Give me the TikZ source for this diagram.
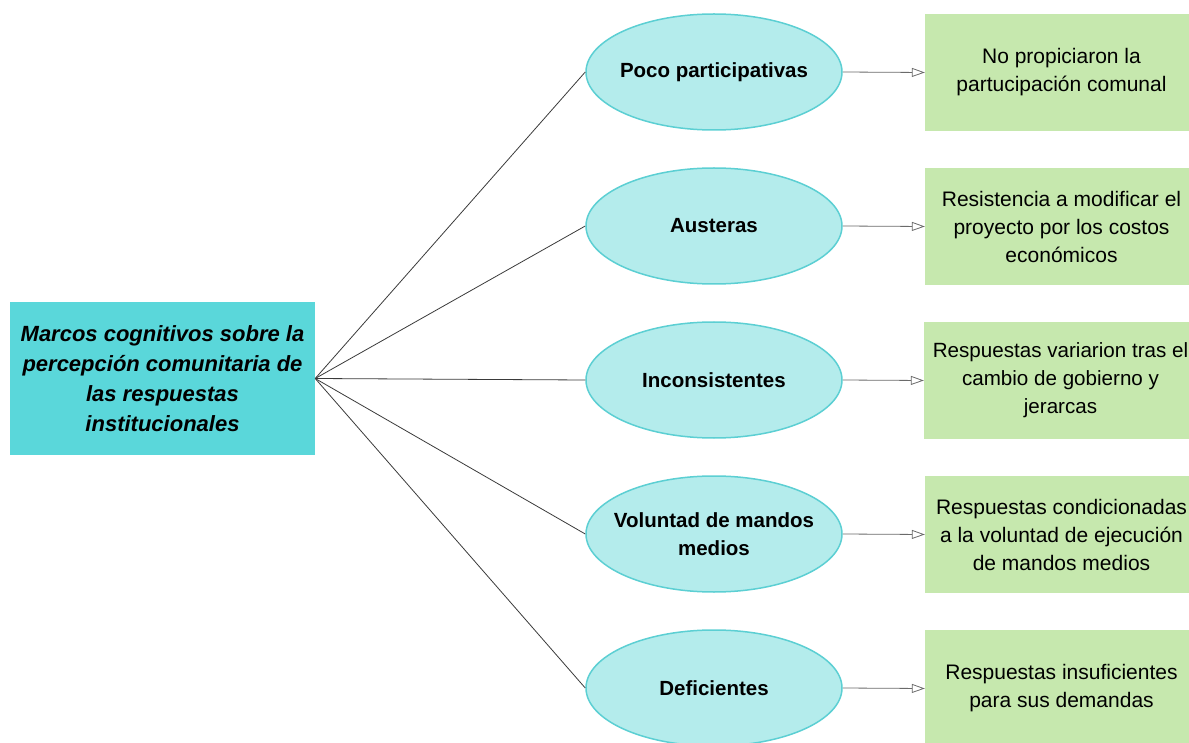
\documentclass[tikz,border=0pt]{standalone}
\usepackage{fontspec}
\setmainfont{Liberation Sans}
\usetikzlibrary{arrows.meta,shapes.geometric}
\definecolor{rootfill}{HTML}{5AD7DA}
\definecolor{ovalfill}{HTML}{B4ECEC}
\definecolor{ovaldraw}{HTML}{5CCFD3}
\definecolor{leaffill}{HTML}{C6E8AE}
\definecolor{spokegray}{HTML}{3A3A3A}
\definecolor{linkgray}{HTML}{6A6A6A}
\begin{document}
\begin{tikzpicture}[x=1pt,y=-1pt,
  root/.style={fill=rootfill, minimum width=305pt, minimum height=153pt,
    inner sep=0pt, align=center,
    font=\fontsize{22}{30}\selectfont\bfseries\itshape},
  % negative x padding keeps every oval at the same fixed size
  oval/.style={ellipse, fill=ovalfill, draw=ovaldraw, line width=1.5pt,
    minimum width=256pt, minimum height=116pt, inner xsep=-20pt,
    inner ysep=0pt, align=center,
    font=\fontsize{20.5}{28}\selectfont\bfseries},
  leaf/.style={fill=leaffill, minimum width=273pt, minimum height=117pt,
    inner sep=0pt, align=center, font=\fontsize{21}{28}\selectfont},
  spoke/.style={draw=spokegray, line width=0.8pt},
  link/.style={draw=linkgray, line width=0.8pt,
    -{Triangle[open,length=13pt,width=9pt]}}
]
\useasboundingbox (0,0) rectangle (1189,743);
\clip (0,0) rectangle (1189,743);

% central topic
\node[root] (root) at (162.5,378.5)
  {Marcos cognitivos sobre la\\percepción comunitaria de\\las respuestas\\institucionales};

% categories
\node[oval] (c1) at (714,72)  {Poco participativas};
\node[oval] (c2) at (714,226) {Austeras};
\node[oval] (c3) at (714,380) {Inconsistentes};
\node[oval] (c4) at (714,534) {Voluntad de mandos\\medios};
\node[oval] (c5) at (714,688) {Deficientes};

% descriptions
\node[leaf] (d1) at (1061.5,72.5)  {No propiciaron la\\partucipación comunal};
\node[leaf] (d2) at (1061.5,226.5) {Resistencia a modificar el\\proyecto por los costos\\económicos};
\node[leaf, font=\fontsize{20.6}{28}\selectfont] (d3) at (1060.5,380.5)
  {Respuestas variarion tras el\\cambio de gobierno y\\jerarcas};
\node[leaf] (d4) at (1061.5,534.5) {Respuestas condicionadas\\a la voluntad de ejecución\\de mandos medios};
\node[leaf] (d5) at (1061.5,688.5) {Respuestas insuficientes\\para sus demandas};

% connectors
\foreach \i in {1,...,5}{
  \draw[spoke] (root.east) -- (c\i.west);
  \draw[link] (c\i.east) -- (d\i.west);
}
\end{tikzpicture}
\end{document}
